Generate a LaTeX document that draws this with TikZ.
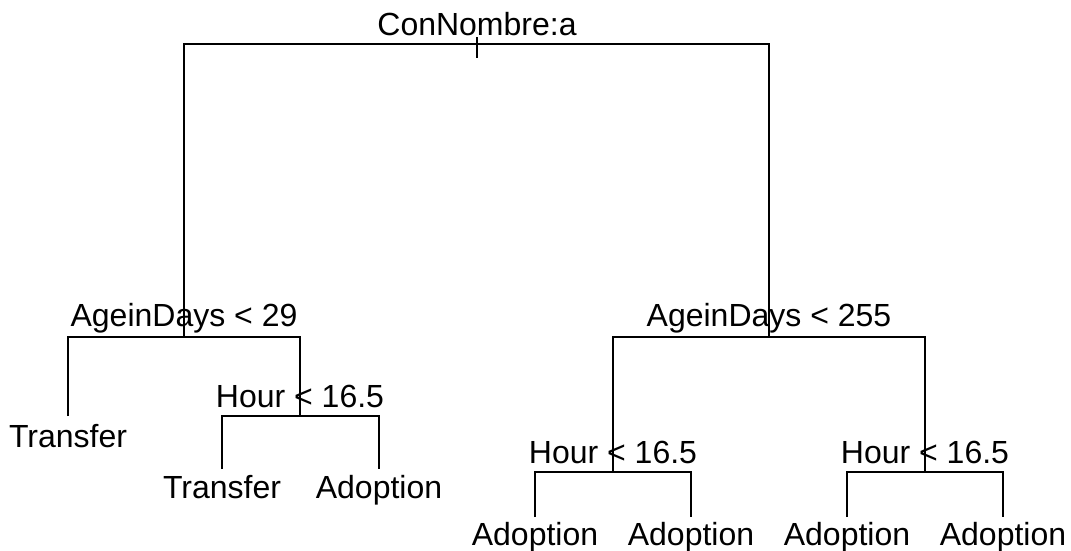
\documentclass[tikz,border=0pt]{standalone}
\usepackage{fontspec}
\setmainfont{Liberation Sans}
\begin{document}
\begin{tikzpicture}[x=1pt,y=-1pt,line width=1.7pt,
	lbl/.style={anchor=base,inner sep=0pt,font=\fontsize{32}{32}\selectfont}]
	\useasboundingbox (0,0) rectangle (1071,550);
	% splits (s) and leaf ends (t)
	\foreach \x/\y/\n in {477/44/s0,184/337/s1,769/337/s2,300/416/s3,613/472/s4,925/472/s5,68/416/t1,222/469/t2,379/469/t3,535/517/t4,691/517/t5,847/517/t6,1003/517/t7}\coordinate (\n) at (\x,\y);
	\foreach \n/\d/\gt in {s0/-9/ConNombre:a,s1/-11/AgeinDays < 29,s2/-11/AgeinDays < 255,s3/-9/Hour < 16.5,s4/-9/Hour < 16.5,s5/-9/Hour < 16.5,t1/31/Transfer,t2/29/Transfer,t3/29/Adoption,t4/28/Adoption,t5/28/Adoption,t6/28/Adoption,t7/28/Adoption}\path (\n) ++(0,\d) node[lbl](\n-txt){\gt};
	\foreach \a/\p/\b in {s1/s0/s2,t1/s1/s3,t2/s3/t3,s4/s2/s5,t4/s4/t5,t6/s5/t7}\draw (\a) |- (\p) -| (\b);
	\draw ([yshift=7pt]s0) -- ([yshift=-14pt]s0);
\end{tikzpicture}
\end{document}
